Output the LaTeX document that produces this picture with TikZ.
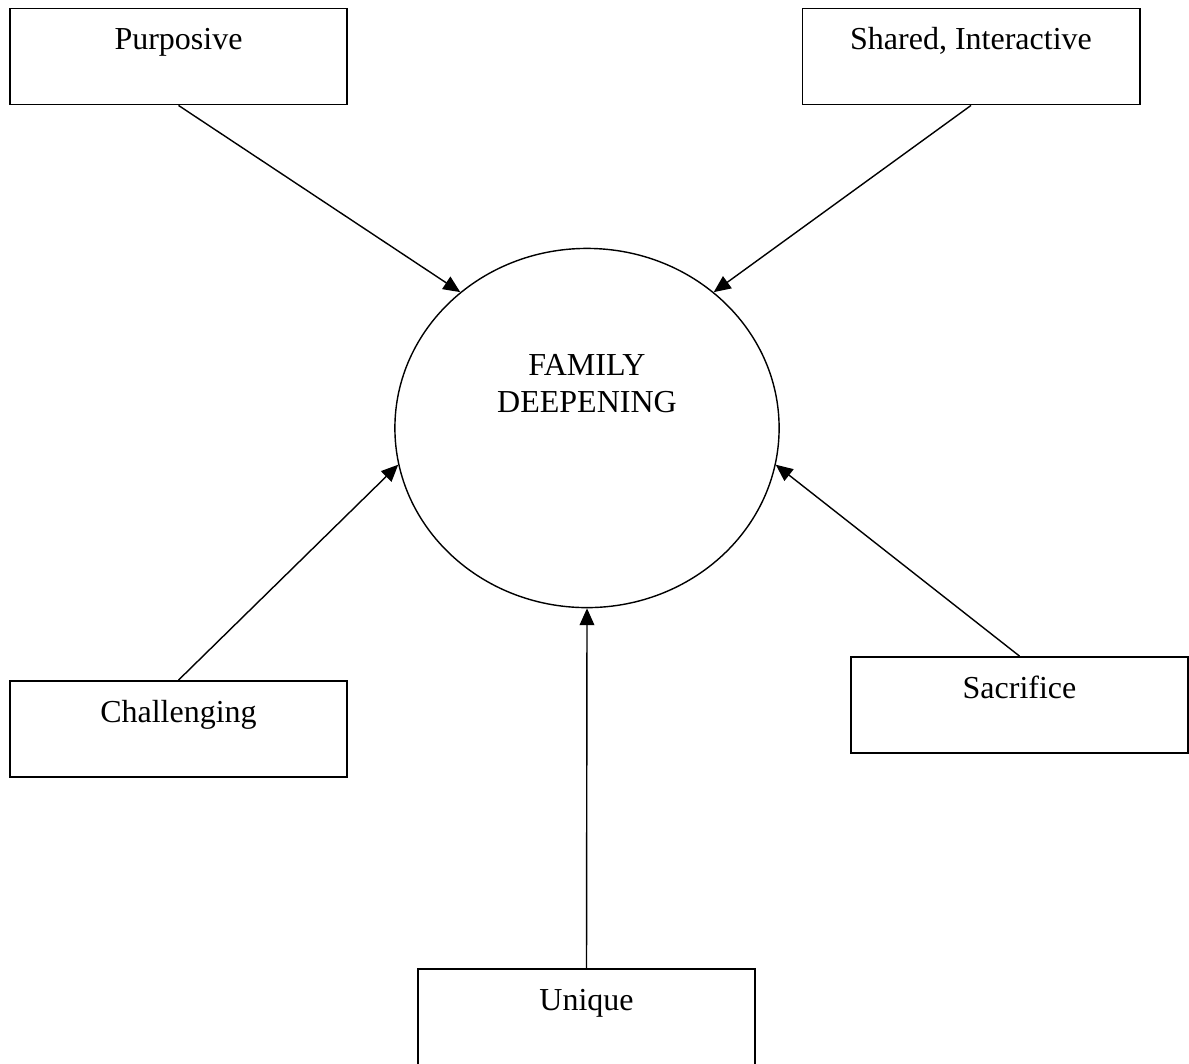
\documentclass[tikz,border=0pt]{standalone}
\usepackage{fontspec}
\setmainfont{Liberation Serif}
\usetikzlibrary{arrows.meta,shapes.geometric,calc}
\begin{document}
\begin{tikzpicture}[x=0.01cm,y=-0.01cm,
  every node/.style={font=\fontsize{9.1}{10.5}\selectfont},
  stepbox/.style={draw, line width=0.5pt, rectangle, inner sep=0pt,
    minimum width=3.37cm, text height=0.41cm, text depth=0.55cm},
  hub/.style={draw, line width=0.4pt, ellipse, inner sep=0pt,
    minimum width=3.84cm, minimum height=3.59cm},
  link/.style={line width=0.4pt, -{Triangle[length=4.8pt,width=4.2pt]}}]
\useasboundingbox (0,0) rectangle (1189,1063);
\clip (0,0) rectangle (1189,1063);
\node[stepbox] (p) at (178.5,56.5) {Purposive};
\node[stepbox] (s) at (971,56.5) {Shared, Interactive};
\node[stepbox] (c) at (178.5,729) {Challenging};
\node[stepbox] (sa) at (1019.5,705) {Sacrifice};
\node[stepbox] (u) at (586.5,1017) {Unique};
\node[hub, label={[align=center, yshift=0.44cm]center:FAMILY\\DEEPENING}] (fd) at (587,428) {};
\draw[link] (p.south) -- (fd.133);
\draw[link] (s.south) -- (fd.47);
\draw[link] (c.north) -- (fd.191);
\draw[link] (sa.north) -- (fd.-11);
\draw[link] (u.north) -- (fd.south);
\end{tikzpicture}
\end{document}
